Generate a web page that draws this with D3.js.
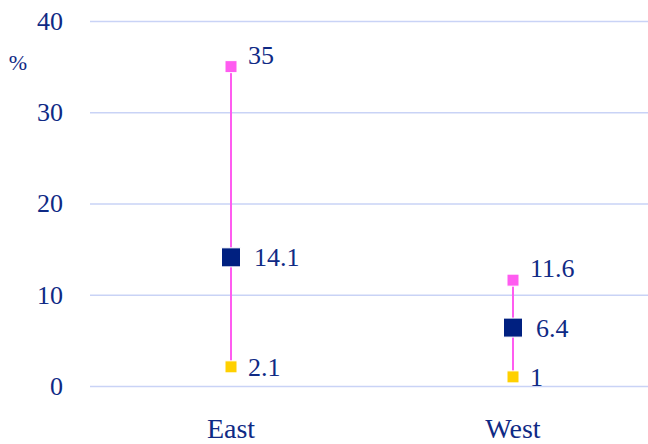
<!DOCTYPE html>
<meta charset="utf-8">
<script src="https://d3js.org/d3.v7.min.js"></script>
<style>
  body { margin: 0; background: #fff; }
</style>
<div id="chart"></div>
<script>
    // data
    const regions = ["East", "West"];
    const maxValues = [35, 11.6];
    const meanValues = [14.1, 6.4];
    const minValues = [2.1, 1];
    const yTicks = [0, 10, 20, 30, 40];

    const width = 648, height = 444;
    const margin = {top: 21, right: 0, bottom: 58, left: 90};
    const serif = "Liberation Serif";
    const ink = "#0f2a85";

    const svg = d3.select("#chart")
      .append("svg")
        .attr("width", width)
        .attr("height", height)
        .attr("font-family", serif);

    const x = d3.scalePoint()
      .domain(regions)
      .range([margin.left, width + 6])
      .padding(0.5);

    const y = d3.scaleLinear()
      .domain([0, 40])
      .range([height - margin.bottom, margin.top]);

    // grid lines + tick labels
    const yAxis = svg.append("g")
      .attr("transform", `translate(${margin.left},0)`)
      .call(d3.axisLeft(y).tickValues(yTicks).tickSize(-(width - margin.left)).tickPadding(27))
    yAxis.attr("font-family", serif).attr("font-size", 26);
    yAxis.select(".domain").remove();
    yAxis.selectAll(".tick line").attr("stroke", "#c9d3f6").attr("stroke-width", 1.3);
    yAxis.selectAll(".tick text")
      .attr("font-family", serif)
      .attr("font-size", 26)
      .attr("fill", ink);

    svg.append("text")
      .attr("x", 18)
      .attr("y", 70)
      .attr("text-anchor", "middle")
      .attr("font-family", serif)
      .attr("font-size", 22)
      .attr("fill", ink)
      .text("%");

    // category labels
    svg.append("g")
      .selectAll("text")
      .data(regions)
      .join("text")
        .attr("x", d => x(d))
        .attr("y", 438)
        .attr("text-anchor", "middle")
        .attr("font-family", serif)
        .attr("font-size", 28)
        .attr("fill", ink)
        .text(d => d);

    const rows = regions.map((r, i) => ({region: r, max: maxValues[i], mean: meanValues[i], min: minValues[i]}));

    // range lines
    svg.append("g")
      .selectAll("line")
      .data(rows)
      .join("line")
        .attr("x1", d => x(d.region))
        .attr("x2", d => x(d.region))
        .attr("y1", d => y(d.max))
        .attr("y2", d => y(d.min))
        .attr("stroke", "#ff5cf0")
        .attr("stroke-width", 2);

    const marks = [
      {key: "max", color: "#ff5cf0", size: 12, dx: 17, dy: -12},
      {key: "min", color: "#ffd000", size: 12, dx: 17, dy: 0},
      {key: "mean", color: "#002080", size: 19, dx: 23, dy: 0}
    ];

    marks.forEach(m => {
      const g = svg.append("g");
      g.selectAll("rect")
        .data(rows)
        .join("rect")
          .attr("x", d => x(d.region) - m.size / 2)
          .attr("y", d => y(d[m.key]) - m.size / 2)
          .attr("width", m.size)
          .attr("height", m.size)
          .attr("fill", m.color)
          .attr("stroke", "#fff")
          .attr("stroke-width", 1);
      g.selectAll("text")
        .data(rows)
        .join("text")
          .attr("x", d => x(d.region) + m.dx)
          .attr("y", d => y(d[m.key]) + m.dy)
          .attr("dy", "0.35em")
          .attr("font-family", serif)
          .attr("font-size", 26)
          .attr("fill", ink)
          .text(d => d[m.key]);
    });
</script>
